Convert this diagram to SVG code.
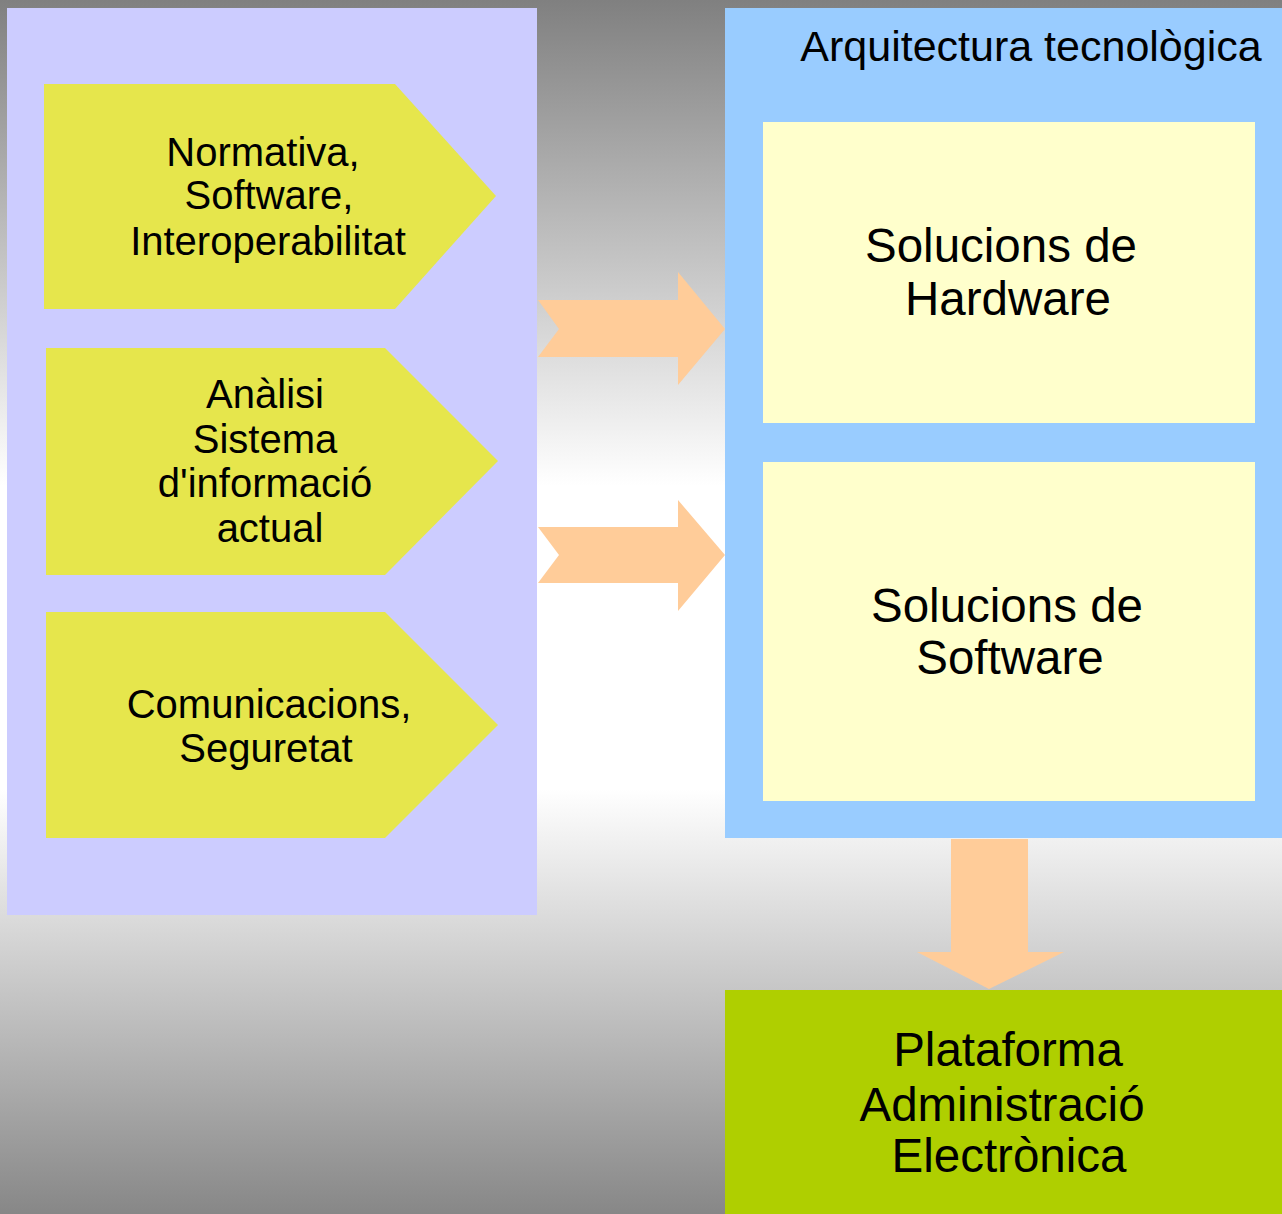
<svg xmlns="http://www.w3.org/2000/svg" width="1282" height="1214" viewBox="0 0 1282 1214">
<defs>
<linearGradient id="bg" x1="0" y1="0" x2="0" y2="1">
<stop offset="0" stop-color="#808080"/>
<stop offset="0.4" stop-color="#ffffff"/>
<stop offset="0.65" stop-color="#ffffff"/>
<stop offset="1" stop-color="#878787"/>
</linearGradient>
<style>
text{font-family:"Liberation Sans",Arial,sans-serif;fill:#000;text-anchor:middle}
.sm{font-size:40px}
.lg{font-size:47.5px}
.chev{fill:#e6e64c}
.inner{fill:#ffffcc}
.arrow{fill:#ffcc99}
</style>
</defs>
<rect x="0" y="0" width="1282" height="1214" fill="url(#bg)"/>
<g id="left-panel">
<rect x="7" y="8" width="530" height="907" fill="#ccccff"/>
</g>
<g id="node-normativa">
<polygon class="chev" points="44,84 395,84 496,196 395,309 44,309"/>
<text class="sm"><tspan x="263" y="166">Normativa,</tspan><tspan x="269" y="209">Software,</tspan><tspan x="268" y="255">Interoperabilitat</tspan></text>
</g>
<g id="node-analisi">
<polygon class="chev" points="46,348 385,348 498,461 385,575 46,575"/>
<text class="sm"><tspan x="265" y="408">Anàlisi</tspan><tspan x="265" y="453">Sistema</tspan><tspan x="265" y="497">d'informació</tspan><tspan x="270" y="542">actual</tspan></text>
</g>
<g id="node-comunicacions">
<polygon class="chev" points="46,612 385,612 498,725 385,838 46,838"/>
<text class="sm"><tspan x="269" y="718">Comunicacions,</tspan><tspan x="266" y="762">Seguretat</tspan></text>
</g>
<g id="arquitectura">
<rect x="725" y="8" width="557" height="830" fill="#99ccff"/>
<text x="1031" y="61" style="font-size:43px">Arquitectura tecnològica</text>
</g>
<g id="node-hardware">
<rect class="inner" x="763" y="122" width="492" height="301"/>
<text class="lg"><tspan x="1001" y="262">Solucions de</tspan><tspan x="1008" y="315">Hardware</tspan></text>
</g>
<g id="node-software">
<rect class="inner" x="763" y="462" width="492" height="339"/>
<text class="lg"><tspan x="1007" y="622">Solucions de</tspan><tspan x="1010" y="674">Software</tspan></text>
</g>
<g id="node-plataforma">
<rect x="725" y="990" width="557" height="224" fill="#afcf00"/>
<text class="lg"><tspan x="1008" y="1066">Plataforma</tspan><tspan x="1002" y="1121">Administració</tspan><tspan x="1009" y="1172">Electrònica</tspan></text>
</g>
<g id="connectors">
<polygon class="arrow" points="538,300 678,300 678,272 725,329 678,385 678,357 538,357 559,329"/>
<polygon class="arrow" points="538,527 678,527 678,500 725,555 678,611 678,583 538,583 559,555"/>
<polygon class="arrow" points="951,839 1028,839 1028,952 1064,952 989,989 917,952 951,952"/>
</g>
</svg>
